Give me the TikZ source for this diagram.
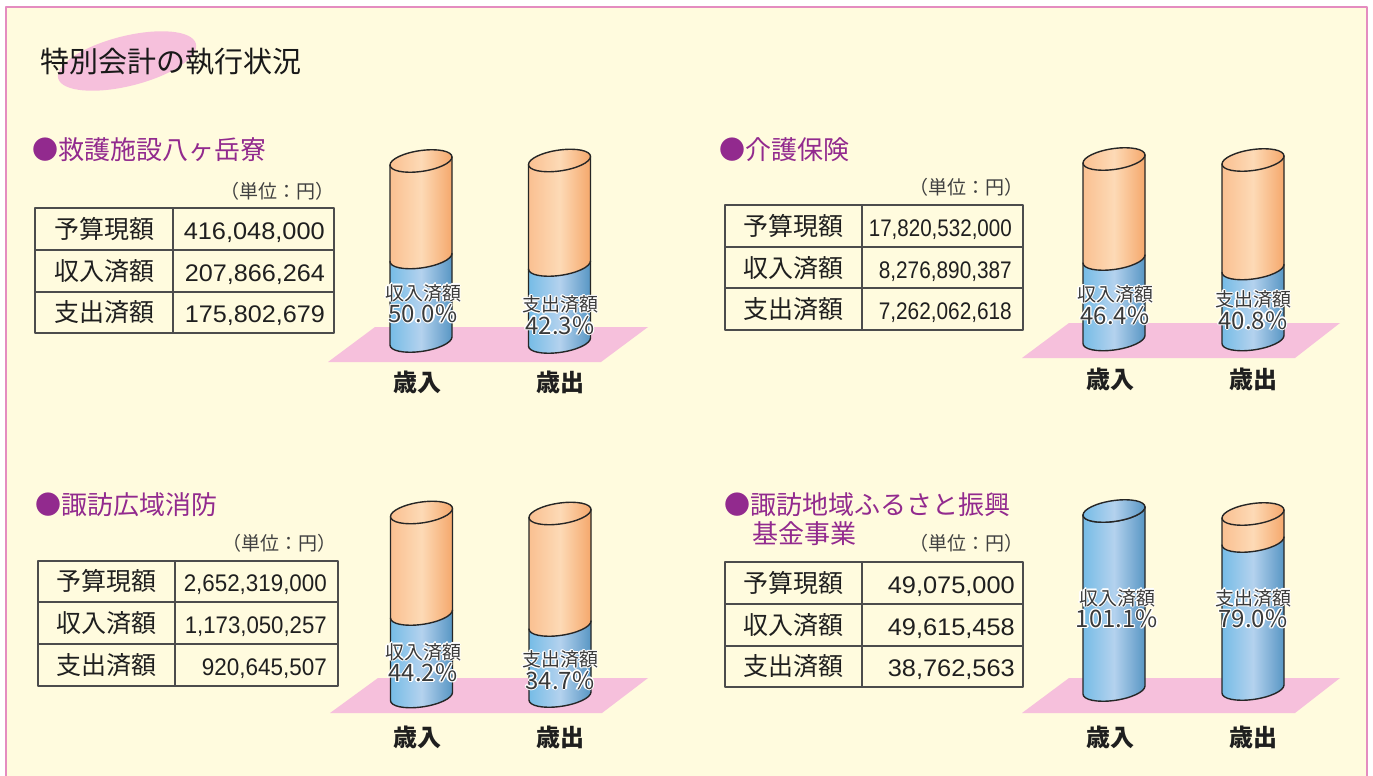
\documentclass[tikz,border=0pt]{standalone}
\usepackage{fontspec}
\usepackage{graphicx}
\setmainfont{Noto Sans CJK JP}
\newfontfamily\numfont{Liberation Sans}
\definecolor{bgcream}{HTML}{FFFBDE}
\definecolor{framepink}{HTML}{E48CC0}
\definecolor{floorpink}{HTML}{F6C0DC}
\definecolor{headpurple}{HTML}{922A8E}
\definecolor{inkgray}{HTML}{3A3A3A}
\definecolor{cylblueL}{RGB}{118,188,230}
\definecolor{cylblueM}{RGB}{180,210,238}
\definecolor{cylblueR}{RGB}{88,150,196}
\definecolor{cylorgL}{RGB}{250,192,145}
\definecolor{cylorgM}{RGB}{253,218,182}
\definecolor{cylorgR}{RGB}{245,168,108}
\tikzset{
  bluecyl/.style={left color=cylblueL,right color=cylblueR,middle color=cylblueM},
  orangecyl/.style={left color=cylorgL,right color=cylorgR,middle color=cylorgM},
  cylline/.style={draw=black!85,line width=1.4pt},
  tabline/.style={draw=black!70,line width=1.3pt},
  floor/.style={fill=floorpink},
  heading/.style={anchor=west,inner sep=0,text=headpurple,font=\fontsize{26}{26}\selectfont},
  unitlabel/.style={anchor=east,inner sep=0,text=black!75,font=\fontsize{19}{19}\selectfont},
  rowlabel/.style={inner sep=0,text=black!88,font=\fontsize{25}{25}\selectfont},
  rowvalue/.style={anchor=base east,inner sep=0,text=black!88,font=\numfont\fontsize{24}{24}\selectfont},
  cyltag/.style={inner sep=0,align=center,text=inkgray,font=\fontsize{19}{22.5}\selectfont},
  axislabel/.style={inner sep=0,text=black!88,font=\bfseries\fontsize{24}{24}\selectfont}
}
\newcommand\tabnum[2]{\resizebox{#1pt}{\height}{#2}}
\newcommand\pcttext[2]{#1\\{\fontsize{24}{22.5}\selectfont #2}}
\newcommand\cylbar[5]{%
  \begin{scope}[shift={(#1,#2)},yslant=0.13]
    \shade[bluecyl] (-31,#3) -- (-31,#4) arc[start angle=180,end angle=0,x radius=31,y radius=10.5] -- (31,#3) arc[start angle=0,end angle=180,x radius=31,y radius=10.5] -- cycle;
    \shade[orangecyl] (-31,0) -- (-31,#3) arc[start angle=180,end angle=0,x radius=31,y radius=10.5] -- (31,0) arc[start angle=0,end angle=-180,x radius=31,y radius=10.5] -- cycle;
    \draw[cylline] (31,#3) arc[start angle=0,end angle=180,x radius=31,y radius=10.5];
    \draw[cylline] (-31,0) -- (-31,#4) arc[start angle=180,end angle=0,x radius=31,y radius=10.5] -- (31,0);
    \shade[#5,cylline] (0,0) ellipse[x radius=31,y radius=10.5];
  \end{scope}}
\newcommand\halo[3]{%
  \foreach \hx/\hy in {1.3/0,-1.3/0,0/1.3,0/-1.3,0.9/0.9,-0.9/0.9,0.9/-0.9,-0.9/-0.9}
    {\node[cyltag,text=white,xshift=\hx pt,yshift=\hy pt] at (#2) {#3};}
  \node[cyltag] (#1) at (#2) {#3};}

\begin{document}
\begin{tikzpicture}[line cap=round,line join=round,x=1pt,y=-1pt]
\useasboundingbox (0,0) rectangle (1373,776);
\fill[white] (0,0) rectangle (1373,776);
\fill[bgcream] (6,7) rectangle (1367,776);
\draw[framepink,line width=2.4pt] (6,782) -- (6,7) -- (1367,7) -- (1367,782);
\fill[floorpink,rotate around={14:(127,61)}] (127,61) ellipse[x radius=71,y radius=25];
\node[anchor=west,inner sep=0,text=black!90,font=\fontsize{29}{29}\selectfont] (title) at (40,62) {特別会計の執行状況};

\node[heading] (headA) at (32,150) {●救護施設八ヶ岳寮};
\node[unitlabel] (unitA) at (335,191) {（単位：円）};
\draw[tabline] (35,208) rectangle (334,333);
\draw[tabline] (173,208) -- (173,333);
\draw[tabline] (35,250) -- (334,250);
\draw[tabline] (35,292) -- (334,292);
\node[rowlabel] (budA) at (104,229) {予算現額};
\node[rowlabel] (incA) at (104,271) {収入済額};
\node[rowlabel] (expA) at (104,312) {支出済額};
\node[rowvalue] (budAv) at (325,239) {\tabnum{141}{416,048,000}};
\node[rowvalue] (incAv) at (325,281) {\tabnum{140}{207,866,264}};
\node[rowvalue] (expAv) at (325,322) {\tabnum{140}{175,802,679}};
\fill[floor] (328,362) -- (601,362) -- (648,327) -- (375,327) -- cycle;
\cylbar{421}{161}{96.5}{180}{orangecyl}
\cylbar{559.5}{160.5}{104.5}{181.5}{orangecyl}
\halo{tagAin}{423,303.5}{\pcttext{収入済額}{50.0\%}}
\halo{tagAout}{560,315}{\pcttext{支出済額}{42.3\%}}
\node[axislabel] (revA) at (417,382) {歳入};
\node[axislabel] (spdA) at (560,382) {歳出};

\node[heading] (headB) at (719,150) {●介護保険};
\node[unitlabel] (unitB) at (1024,187) {（単位：円）};
\draw[tabline] (725,205) rectangle (1023,330);
\draw[tabline] (862,205) -- (862,330);
\draw[tabline] (725,247) -- (1023,247);
\draw[tabline] (725,288) -- (1023,288);
\node[rowlabel] (budB) at (793,226) {予算現額};
\node[rowlabel] (incB) at (793,268) {収入済額};
\node[rowlabel] (expB) at (793,309) {支出済額};
\node[rowvalue] (budBv) at (1012,236) {\tabnum{143}{17,820,532,000}};
\node[rowvalue] (incBv) at (1012,278) {\tabnum{133}{8,276,890,387}};
\node[rowvalue] (expBv) at (1012,319) {\tabnum{133}{7,262,062,618}};
\fill[floor] (1022,358) -- (1295,358) -- (1340,323) -- (1069,323) -- cycle;
\cylbar{1114}{159}{100}{180.5}{orangecyl}
\cylbar{1253}{160}{108.5}{179.5}{orangecyl}
\halo{tagBin}{1115,305}{\pcttext{収入済額}{46.4\%}}
\halo{tagBout}{1253,310}{\pcttext{支出済額}{40.8\%}}
\node[axislabel] (revB) at (1110,379) {歳入};
\node[axislabel] (spdB) at (1253,379) {歳出};

\node[heading] (headC) at (35,505) {●諏訪広域消防};
\node[unitlabel] (unitC) at (337,543) {（単位：円）};
\draw[tabline] (38,561) rectangle (338,686);
\draw[tabline] (175,561) -- (175,686);
\draw[tabline] (38,602) -- (338,602);
\draw[tabline] (38,644) -- (338,644);
\node[rowlabel] (budC) at (106,581) {予算現額};
\node[rowlabel] (incC) at (106,623) {収入済額};
\node[rowlabel] (expC) at (106,665) {支出済額};
\node[rowvalue] (budCv) at (327,591) {\tabnum{143}{2,652,319,000}};
\node[rowvalue] (incCv) at (327,633) {\tabnum{142}{1,173,050,257}};
\node[rowvalue] (expCv) at (327,675) {\tabnum{125}{920,645,507}};
\fill[floor] (330,713) -- (602,713) -- (648,678) -- (378,678) -- cycle;
\cylbar{421.5}{512.5}{101.5}{184}{orangecyl}
\cylbar{560}{513.5}{111.5}{182.5}{orangecyl}
\halo{tagCin}{423,662.5}{\pcttext{収入済額}{44.2\%}}
\halo{tagCout}{560,670}{\pcttext{支出済額}{34.7\%}}
\node[axislabel] (revC) at (417,737) {歳入};
\node[axislabel] (spdC) at (560,737) {歳出};

\node[heading] (headD) at (724,505) {●諏訪地域ふるさと振興};
\node[heading] (headDb) at (752,534) {基金事業};
\node[unitlabel] (unitD) at (1024,543) {（単位：円）};
\draw[tabline] (725,562) rectangle (1023,687);
\draw[tabline] (862,562) -- (862,687);
\draw[tabline] (725,604) -- (1023,604);
\draw[tabline] (725,646) -- (1023,646);
\node[rowlabel] (budD) at (793,583) {予算現額};
\node[rowlabel] (incD) at (793,625) {収入済額};
\node[rowlabel] (expD) at (793,666) {支出済額};
\node[rowvalue] (budDv) at (1015,593) {\tabnum{127}{49,075,000}};
\node[rowvalue] (incDv) at (1015,635) {\tabnum{127}{49,615,458}};
\node[rowvalue] (expDv) at (1015,676) {\tabnum{127}{38,762,563}};
\fill[floor] (1022,713) -- (1295,713) -- (1340,678) -- (1069,678) -- cycle;
\cylbar{1114}{511}{0}{179}{bluecyl}
\cylbar{1253}{514}{27}{175}{orangecyl}
\halo{tagDin}{1117,608.5}{\pcttext{収入済額}{101.1\%}}
\halo{tagDout}{1253,608.5}{\pcttext{支出済額}{79.0\%}}
\node[axislabel] (revD) at (1110,737) {歳入};
\node[axislabel] (spdD) at (1253,737) {歳出};
\end{tikzpicture}
\end{document}
